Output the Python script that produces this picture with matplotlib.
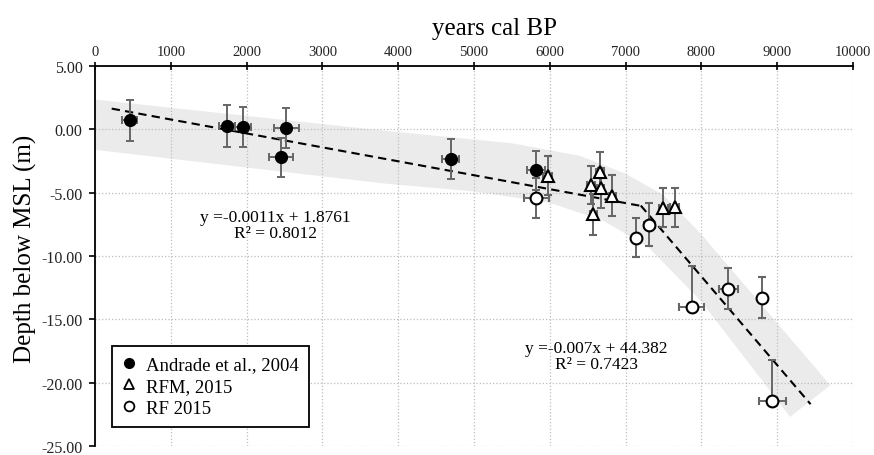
import matplotlib
matplotlib.use('Agg')
import matplotlib.pyplot as plt
from matplotlib.lines import Line2D

plt.rcParams['font.family'] = ['Liberation Serif', 'DejaVu Serif']
plt.rcParams['axes.unicode_minus'] = False

# Andrade et al., 2004 (filled circles)
and_age = [460, 1740, 1950, 2520, 2455, 4690, 5820]
and_depth = [0.73, 0.29, 0.21, 0.13, -2.2, -2.35, -3.24]
and_age_err = [100, 110, 110, 165, 155, 110, 120]
and_depth_err = [1.62, 1.65, 1.58, 1.57, 1.53, 1.61, 1.55]

# RFM, 2015 (triangles)
rfm_age = [5970, 6540, 6660, 6670, 6825, 6575, 7495, 7650]
rfm_depth = [-3.66, -4.37, -3.38, -4.63, -5.23, -6.72, -6.2, -6.15]
rfm_age_err = [55, 50, 50, 50, 50, 50, 60, 60]
rfm_depth_err = [1.52, 1.5, 1.57, 1.6, 1.6, 1.6, 1.55, 1.55]

# RF 2015 (open circles), depth errors are asymmetric
rf_age = [5820, 7135, 7315, 7875, 8355, 8805, 8935]
rf_depth = [-5.42, -8.56, -7.56, -14.05, -12.6, -13.3, -21.45]
rf_age_err = [165, 0, 75, 165, 125, 0, 175]
rf_depth_lo = [1.57, 1.55, 1.65, 0, 1.6, 1.6, 0]
rf_depth_hi = [1.57, 1.55, 1.75, 3.27, 1.62, 1.62, 3.27]

# linear trend lines
fit1_slope, fit1_icpt, fit1_range = -0.0011, 1.8761, [220, 7200]
fit2_slope, fit2_icpt, fit2_range = -0.007, 44.382, [7200, 9440]
fit1_label = 'y =-0.0011x + 1.8761\nR\u00b2 = 0.8012'
fit2_label = 'y =-0.007x + 44.382\nR\u00b2 = 0.7423'

# grey envelope
band_up_x = [0, 3800, 5500, 6400, 7000, 7500, 8000, 9700]
band_up_y = [2.35, -0.1, -1.1, -2.1, -3.5, -5.2, -8.3, -20.2]
band_lo_x = [0, 3850, 5000, 6000, 6700, 7300, 8000, 9170]
band_lo_y = [-1.62, -4.3, -4.9, -5.8, -7.2, -9.3, -13.6, -22.7]

x_ticks = list(range(0, 10001, 1000))
y_ticks = list(range(-25, 6, 5))

fig = plt.figure(figsize=(8.74, 4.56), dpi=100)
ax = fig.add_axes([0.1087, 0.0197, 0.8673, 0.8334])

ax.fill(band_up_x + band_lo_x[::-1], band_up_y + band_lo_y[::-1],
        color='#ebebeb', lw=0, zorder=1)

for (x0, x1), m, b in [(fit1_range, fit1_slope, fit1_icpt), (fit2_range, fit2_slope, fit2_icpt)]:
    ax.plot([x0, x1], [m * x0 + b, m * x1 + b], color='black', ls=(0, (4, 2.5)),
            lw=1.5, zorder=2)

eb = dict(ls='none', ecolor='#666666', elinewidth=1.4, capsize=3.2, capthick=1.4, zorder=3)
ax.errorbar(and_age, and_depth, yerr=and_depth_err, xerr=and_age_err, fmt='o',
            mfc='black', mec='black', ms=8.5, **eb)
ax.errorbar(rfm_age, rfm_depth, yerr=rfm_depth_err, xerr=rfm_age_err, fmt='^',
            mfc='white', mec='black', mew=1.5, ms=9, **eb)
ax.errorbar(rf_age, rf_depth, yerr=[rf_depth_lo, rf_depth_hi], xerr=rf_age_err, fmt='o',
            mfc='white', mec='black', mew=1.5, ms=8.5, **eb)

ax.text(2375, -7.55, fit1_label, ha='center', va='center', fontsize=12.5, linespacing=1.05)
ax.text(6615, -17.88, fit2_label, ha='center', va='center', fontsize=12.5, linespacing=1.05)

ax.set_xlim(0, 10000)
ax.set_ylim(-25, 5)
ax.xaxis.tick_top()
ax.xaxis.set_label_position('top')
ax.set_xticks(x_ticks)
ax.set_yticks(y_ticks)
ax.set_yticklabels(['%.2f' % v for v in y_ticks])
ax.tick_params(axis='x', direction='inout', length=6, width=1.2, labelsize=10.5,
               pad=3, labelcolor='#222222')
ax.tick_params(axis='y', direction='out', length=4, width=1.2, labelsize=11.5,
               pad=5, labelcolor='#222222')
ax.set_xlabel('years cal BP', fontsize=18)
ax.set_ylabel('Depth below MSL (m)', fontsize=18)
ax.xaxis.set_label_coords(0.527, 1.085)
ax.yaxis.set_label_coords(-0.077, 0.521)

ax.grid(True, linestyle=':', color='#bdbdbd', linewidth=0.9)
for side in ['right', 'bottom']:
    ax.spines[side].set_visible(False)
for side in ['top', 'left']:
    ax.spines[side].set_linewidth(1.3)

handles = [
    Line2D([], [], marker='o', ls='none', mfc='black', mec='black', ms=7),
    Line2D([], [], marker='^', ls='none', mfc='white', mec='black', mew=1.3, ms=7),
    Line2D([], [], marker='o', ls='none', mfc='white', mec='black', mew=1.3, ms=7),
]
leg = ax.legend(handles, ['Andrade et al., 2004', 'RFM, 2015', 'RF 2015'],
                loc='upper left', bbox_to_anchor=(0.022, 0.264), borderaxespad=0,
                fancybox=False, edgecolor='black', framealpha=1, fontsize=13.5,
                handlelength=0.8, handletextpad=0.5, labelspacing=0.25, borderpad=0.55)
leg.get_frame().set_linewidth(1.3)

fig.savefig('out.png', dpi=100, facecolor='white')
